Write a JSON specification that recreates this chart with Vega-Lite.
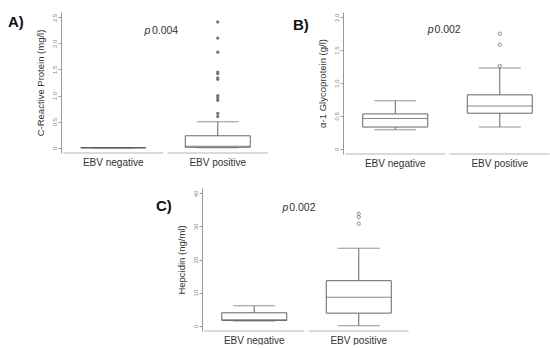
{
  "$schema": "https://vega.github.io/schema/vega-lite/v6.json",
  "padding": {"left": 8, "top": 12, "right": 0, "bottom": 0},
  "background": "white",
  "config": {
    "font": "Liberation Sans",
    "view": {"stroke": null},
    "axisY": {"domainColor": "#999", "tickColor": "#999", "tickSize": 3, "tickCount": 20, "labelFontSize": 6, "labelColor": "#888", "labelAngle": -90, "labelAlign": "center", "labelBaseline": "bottom", "labelPadding": 1, "labelOverlap": false, "labelFlush": false, "titleFontSize": 9.5, "titleColor": "#333", "titleFontWeight": "normal", "titlePadding": 6, "grid": false},
    "axisX": {"domain": false, "ticks": false, "labelFontSize": 10, "labelColor": "#333", "labelPadding": 4, "labelAngle": 0, "grid": false}
  },
  "datasets": {
    "boxes": [
      {"panel": "A", "group": "EBV negative", "lower": 0, "q1": 0, "median": 0, "q3": 0, "upper": 0},
      {"panel": "A", "group": "EBV positive", "lower": 0, "q1": 0.01, "median": 0.03, "q3": 0.23, "upper": 0.5},
      {"panel": "B", "group": "EBV negative", "lower": 0.29, "q1": 0.33, "median": 0.46, "q3": 0.53, "upper": 0.73},
      {"panel": "B", "group": "EBV positive", "lower": 0.33, "q1": 0.54, "median": 0.65, "q3": 0.82, "upper": 1.23},
      {"panel": "C", "group": "EBV negative", "lower": 1.4, "q1": 1.6, "median": 1.8, "q3": 3.9, "upper": 6.0},
      {"panel": "C", "group": "EBV positive", "lower": 0, "q1": 3.8, "median": 8.6, "q3": 13.6, "upper": 23.4}
    ],
    "outliers": [
      {"panel": "A", "group": "EBV positive", "value": 2.41},
      {"panel": "A", "group": "EBV positive", "value": 2.10},
      {"panel": "A", "group": "EBV positive", "value": 1.83},
      {"panel": "A", "group": "EBV positive", "value": 1.45},
      {"panel": "A", "group": "EBV positive", "value": 1.42},
      {"panel": "A", "group": "EBV positive", "value": 1.34},
      {"panel": "A", "group": "EBV positive", "value": 1.31},
      {"panel": "A", "group": "EBV positive", "value": 1.0},
      {"panel": "A", "group": "EBV positive", "value": 0.96},
      {"panel": "A", "group": "EBV positive", "value": 0.91},
      {"panel": "A", "group": "EBV positive", "value": 0.66},
      {"panel": "A", "group": "EBV positive", "value": 0.60},
      {"panel": "B", "group": "EBV positive", "value": 1.75},
      {"panel": "B", "group": "EBV positive", "value": 1.58},
      {"panel": "B", "group": "EBV positive", "value": 1.26},
      {"panel": "C", "group": "EBV positive", "value": 33.8},
      {"panel": "C", "group": "EBV positive", "value": 32.8},
      {"panel": "C", "group": "EBV positive", "value": 30.8}
    ],
    "pvals": [
      {"panel": "A", "pval": "0.004", "ypos": 2.18},
      {"panel": "B", "pval": "0.002", "ypos": 1.76},
      {"panel": "C", "pval": "0.002", "ypos": 34.6}
    ]
  },
  "vconcat": [
    {
      "hconcat": [
        {
          "width": 209, "height": 141,
          "title": {"text": "A)", "anchor": "start", "frame": "bounds", "orient": "top", "offset": -18, "baseline": "top", "dx": -27, "fontSize": 15, "fontWeight": "bold", "color": "#111"},
          "encoding": {"x": {"field": "group", "type": "nominal", "title": null, "scale": {"domain": ["EBV negative", "EBV positive"], "paddingInner": 0, "paddingOuter": 0}}},
          "layer": [
            {"data": {"name": "boxes"}, "transform": [{"filter": "datum.panel === 'A'"}], "mark": {"type": "rule", "color": "#666"}, "encoding": {"y": {"field": "lower", "type": "quantitative", "title": "C-Reactive Protein (mg/l)", "scale": {"domain": [-0.1, 2.6], "nice": false, "zero": false}, "axis": {"values": [0, 0.5, 1, 1.5, 2, 2.5], "tickCount": 20, "labelOverlap": false, "labelExpr": "datum.value === 0 ? '0' : format(datum.value, '.1f')"}}, "y2": {"field": "upper"}}},
            {"data": {"name": "boxes"}, "transform": [{"filter": "datum.panel === 'A'"}], "mark": {"type": "tick", "orient": "horizontal", "size": 100, "thickness": 1, "color": "#999"}, "encoding": {"y": {"datum": -0.1, "type": "quantitative", "title": "C-Reactive Protein (mg/l)"}}},
            {"data": {"name": "boxes"}, "transform": [{"filter": "datum.panel === 'A'"}], "mark": {"type": "tick", "orient": "horizontal", "size": 42, "thickness": 1, "color": "#666"}, "encoding": {"y": {"field": "lower", "type": "quantitative", "title": "C-Reactive Protein (mg/l)"}}},
            {"data": {"name": "boxes"}, "transform": [{"filter": "datum.panel === 'A'"}], "mark": {"type": "tick", "orient": "horizontal", "size": 42, "thickness": 1, "color": "#666"}, "encoding": {"y": {"field": "upper", "type": "quantitative", "title": "C-Reactive Protein (mg/l)"}}},
            {"data": {"name": "boxes"}, "transform": [{"filter": "datum.panel === 'A'"}], "mark": {"type": "bar", "size": 65, "fill": "white", "stroke": "#666", "strokeWidth": 1}, "encoding": {"y": {"field": "q1", "type": "quantitative", "title": "C-Reactive Protein (mg/l)"}, "y2": {"field": "q3"}}},
            {"data": {"name": "boxes"}, "transform": [{"filter": "datum.panel === 'A'"}], "mark": {"type": "tick", "orient": "horizontal", "size": 65, "thickness": 1, "color": "#555"}, "encoding": {"y": {"field": "median", "type": "quantitative", "title": "C-Reactive Protein (mg/l)"}}},
            {"data": {"name": "outliers"}, "transform": [{"filter": "datum.panel === 'A'"}], "mark": {"type": "point", "filled": true, "size": 11, "color": "#777", "opacity": 1}, "encoding": {"y": {"field": "value", "type": "quantitative", "title": "C-Reactive Protein (mg/l)"}}},
            {"data": {"name": "pvals"}, "transform": [{"filter": "datum.panel === 'A'"}], "mark": {"type": "text", "text": "p", "fontStyle": "italic", "align": "left", "baseline": "alphabetic", "fontSize": 10.5, "color": "#333"}, "encoding": {"x": {"datum": "EBV negative", "bandPosition": 0.8}, "y": {"field": "ypos", "type": "quantitative", "title": "C-Reactive Protein (mg/l)"}}},
            {"data": {"name": "pvals"}, "transform": [{"filter": "datum.panel === 'A'"}], "mark": {"type": "text", "align": "left", "baseline": "alphabetic", "fontSize": 10.5, "color": "#333"}, "encoding": {"x": {"datum": "EBV negative", "bandPosition": 0.87}, "y": {"field": "ypos", "type": "quantitative", "title": "C-Reactive Protein (mg/l)"}, "text": {"field": "pval"}}}
          ]
        },
        {
          "width": 209, "height": 142,
          "title": {"text": "B)", "anchor": "start", "frame": "bounds", "orient": "top", "offset": -21, "baseline": "top", "dx": -24, "fontSize": 15, "fontWeight": "bold", "color": "#111"},
          "encoding": {"x": {"field": "group", "type": "nominal", "title": null, "scale": {"domain": ["EBV negative", "EBV positive"], "paddingInner": 0, "paddingOuter": 0}}},
          "layer": [
            {"data": {"name": "boxes"}, "transform": [{"filter": "datum.panel === 'B'"}], "mark": {"type": "rule", "color": "#666"}, "encoding": {"y": {"field": "lower", "type": "quantitative", "title": "α-1 Glycoprotein (g/l)", "scale": {"domain": [-0.08, 2.08], "nice": false, "zero": false}, "axis": {"values": [0, 0.5, 1, 1.5, 2], "tickCount": 20, "labelOverlap": false, "labelExpr": "datum.value === 0 ? '0' : format(datum.value, '.1f')"}}, "y2": {"field": "upper"}}},
            {"data": {"name": "boxes"}, "transform": [{"filter": "datum.panel === 'B'"}], "mark": {"type": "tick", "orient": "horizontal", "size": 100, "thickness": 1, "color": "#999"}, "encoding": {"y": {"datum": -0.08, "type": "quantitative", "title": "α-1 Glycoprotein (g/l)"}}},
            {"data": {"name": "boxes"}, "transform": [{"filter": "datum.panel === 'B'"}], "mark": {"type": "tick", "orient": "horizontal", "size": 42, "thickness": 1, "color": "#666"}, "encoding": {"y": {"field": "lower", "type": "quantitative", "title": "α-1 Glycoprotein (g/l)"}}},
            {"data": {"name": "boxes"}, "transform": [{"filter": "datum.panel === 'B'"}], "mark": {"type": "tick", "orient": "horizontal", "size": 42, "thickness": 1, "color": "#666"}, "encoding": {"y": {"field": "upper", "type": "quantitative", "title": "α-1 Glycoprotein (g/l)"}}},
            {"data": {"name": "boxes"}, "transform": [{"filter": "datum.panel === 'B'"}], "mark": {"type": "bar", "size": 65, "fill": "white", "stroke": "#666", "strokeWidth": 1}, "encoding": {"y": {"field": "q1", "type": "quantitative", "title": "α-1 Glycoprotein (g/l)"}, "y2": {"field": "q3"}}},
            {"data": {"name": "boxes"}, "transform": [{"filter": "datum.panel === 'B'"}], "mark": {"type": "tick", "orient": "horizontal", "size": 65, "thickness": 1, "color": "#555"}, "encoding": {"y": {"field": "median", "type": "quantitative", "title": "α-1 Glycoprotein (g/l)"}}},
            {"data": {"name": "outliers"}, "transform": [{"filter": "datum.panel === 'B'"}], "mark": {"type": "point", "filled": false, "size": 11, "color": "#777", "strokeWidth": 0.8, "opacity": 1}, "encoding": {"y": {"field": "value", "type": "quantitative", "title": "α-1 Glycoprotein (g/l)"}}},
            {"data": {"name": "pvals"}, "transform": [{"filter": "datum.panel === 'B'"}], "mark": {"type": "text", "text": "p", "fontStyle": "italic", "align": "left", "baseline": "alphabetic", "fontSize": 10.5, "color": "#333"}, "encoding": {"x": {"datum": "EBV negative", "bandPosition": 0.81}, "y": {"field": "ypos", "type": "quantitative", "title": "α-1 Glycoprotein (g/l)"}}},
            {"data": {"name": "pvals"}, "transform": [{"filter": "datum.panel === 'B'"}], "mark": {"type": "text", "align": "left", "baseline": "alphabetic", "fontSize": 10.5, "color": "#333"}, "encoding": {"x": {"datum": "EBV negative", "bandPosition": 0.875}, "y": {"field": "ypos", "type": "quantitative", "title": "α-1 Glycoprotein (g/l)"}, "text": {"field": "pval"}}}
          ]
        }
      ],
      "spacing": 23
    },
    {
      "width": 209, "height": 143,
      "title": {"text": "C)", "anchor": "start", "frame": "bounds", "orient": "top", "offset": -26, "baseline": "top", "dx": -20, "fontSize": 15, "fontWeight": "bold", "color": "#111"},
      "encoding": {"x": {"field": "group", "type": "nominal", "title": null, "scale": {"domain": ["EBV negative", "EBV positive"], "paddingInner": 0, "paddingOuter": 0}}},
      "layer": [
        {"data": {"name": "boxes"}, "transform": [{"filter": "datum.panel === 'C'"}], "mark": {"type": "rule", "color": "#666"}, "encoding": {"y": {"field": "lower", "type": "quantitative", "title": "Hepcidin (ng/ml)", "scale": {"domain": [-1.6, 41.6], "nice": false, "zero": false}, "axis": {"values": [0, 10, 20, 30, 40], "tickCount": 20, "labelOverlap": false}}, "y2": {"field": "upper"}}},
        {"data": {"name": "boxes"}, "transform": [{"filter": "datum.panel === 'C'"}], "mark": {"type": "tick", "orient": "horizontal", "size": 100, "thickness": 1, "color": "#999"}, "encoding": {"y": {"datum": -1.6, "type": "quantitative", "title": "Hepcidin (ng/ml)"}}},
        {"data": {"name": "boxes"}, "transform": [{"filter": "datum.panel === 'C'"}], "mark": {"type": "tick", "orient": "horizontal", "size": 42, "thickness": 1, "color": "#666"}, "encoding": {"y": {"field": "lower", "type": "quantitative", "title": "Hepcidin (ng/ml)"}}},
        {"data": {"name": "boxes"}, "transform": [{"filter": "datum.panel === 'C'"}], "mark": {"type": "tick", "orient": "horizontal", "size": 42, "thickness": 1, "color": "#666"}, "encoding": {"y": {"field": "upper", "type": "quantitative", "title": "Hepcidin (ng/ml)"}}},
        {"data": {"name": "boxes"}, "transform": [{"filter": "datum.panel === 'C'"}], "mark": {"type": "bar", "size": 65, "fill": "white", "stroke": "#666", "strokeWidth": 1}, "encoding": {"y": {"field": "q1", "type": "quantitative", "title": "Hepcidin (ng/ml)"}, "y2": {"field": "q3"}}},
        {"data": {"name": "boxes"}, "transform": [{"filter": "datum.panel === 'C'"}], "mark": {"type": "tick", "orient": "horizontal", "size": 65, "thickness": 1, "color": "#555"}, "encoding": {"y": {"field": "median", "type": "quantitative", "title": "Hepcidin (ng/ml)"}}},
        {"data": {"name": "outliers"}, "transform": [{"filter": "datum.panel === 'C'"}], "mark": {"type": "point", "filled": false, "size": 11, "color": "#777", "strokeWidth": 0.8, "opacity": 1}, "encoding": {"y": {"field": "value", "type": "quantitative", "title": "Hepcidin (ng/ml)"}}},
        {"data": {"name": "pvals"}, "transform": [{"filter": "datum.panel === 'C'"}], "mark": {"type": "text", "text": "p", "fontStyle": "italic", "align": "left", "baseline": "alphabetic", "fontSize": 10.5, "color": "#333"}, "encoding": {"x": {"datum": "EBV negative", "bandPosition": 0.77}, "y": {"field": "ypos", "type": "quantitative", "title": "Hepcidin (ng/ml)"}}},
        {"data": {"name": "pvals"}, "transform": [{"filter": "datum.panel === 'C'"}], "mark": {"type": "text", "align": "left", "baseline": "alphabetic", "fontSize": 10.5, "color": "#333"}, "encoding": {"x": {"datum": "EBV negative", "bandPosition": 0.835}, "y": {"field": "ypos", "type": "quantitative", "title": "Hepcidin (ng/ml)"}, "text": {"field": "pval"}}}
      ]
    }
  ],
  "spacing": 20,
  "center": true
}
